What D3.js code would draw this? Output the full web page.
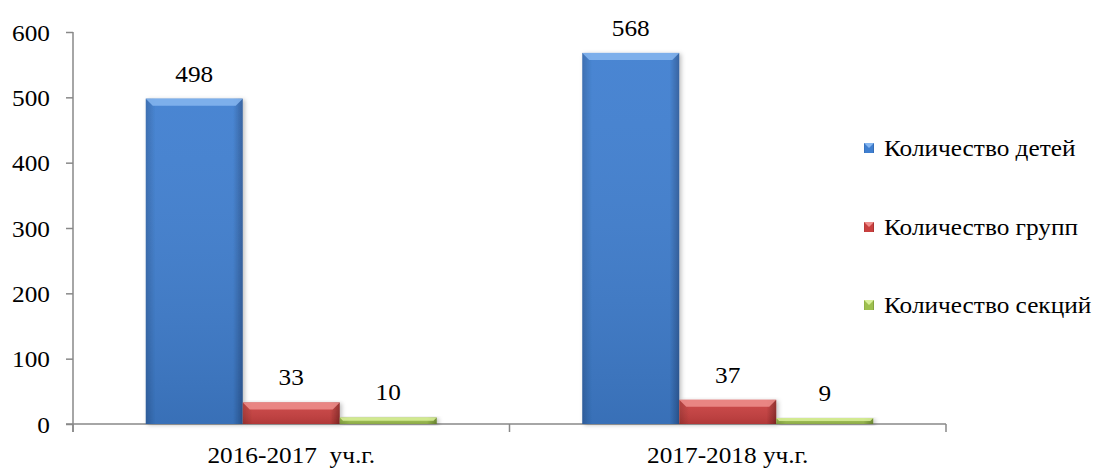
<!DOCTYPE html>
<html lang="ru">
<head>
<meta charset="UTF-8">
<title>Количество детей, групп и секций</title>
<script src="https://d3js.org/d3.v7.min.js"></script>
<style>
  body { margin: 0; background: #fff; }
  svg text { fill: #000; white-space: pre; }
</style>
</head>
<body>
<svg id="chart" width="1103" height="468"></svg>
<script>
// data
const years = ["2016-2017  уч.г.", "2017-2018 уч.г."];
const seriesNames = ["Количество детей", "Количество групп", "Количество секций"];
const children = [498, 568];
const groups = [33, 37];
const sections = [10, 9];
const yTicks = [0, 100, 200, 300, 400, 500, 600];

const seriesValues = [children, groups, sections];
const colors = [
  { base: "#3f7fd0", light: "#86b6f0", dark: "#2d5c9c", edge: "#3468ad" },
  { base: "#c9403f", light: "#ef8f8d", dark: "#8c2726", edge: "#a83634" },
  { base: "#9ec04f", light: "#d9f09a", dark: "#6c8a2e", edge: "#87a53f" }
];

const FONT = "Liberation Serif";
const svg = d3.select("#chart");
const plotLeft = 73, plotRight = 946, plotTop = 32, plotBottom = 424;
const stretch = 1.1; // text in the picture is a bit wide

const x = d3.scaleBand().domain(years).range([plotLeft, plotRight]);
const inner = d3.scaleBand().domain(d3.range(seriesNames.length))
  .range([x.bandwidth() / 6, x.bandwidth() * 5 / 6]);
const y = d3.scaleLinear().domain([0, 600]).range([plotBottom, plotTop]);

function wideText(sel, px, py) {
  return sel.attr("font-family", FONT).attr("font-size", 23)
    .attr("transform", `translate(${px},${py}) scale(${stretch},1)`);
}

// gradients
const defs = svg.append("defs");
colors.forEach((c, i) => {
  const g = defs.append("linearGradient").attr("id", "grad" + i)
    .attr("x1", 0).attr("x2", 1).attr("y1", 0).attr("y2", 0);
  g.append("stop").attr("offset", "0%").attr("stop-color", c.edge);
  g.append("stop").attr("offset", "10%").attr("stop-color", c.base);
  g.append("stop").attr("offset", "90%").attr("stop-color", c.base);
  g.append("stop").attr("offset", "100%").attr("stop-color", c.dark);
});
const shade = defs.append("linearGradient").attr("id", "shade")
  .attr("x1", 0).attr("x2", 0).attr("y1", 0).attr("y2", 1);
shade.append("stop").attr("offset", "0%").attr("stop-color", "#fff").attr("stop-opacity", 0.05);
shade.append("stop").attr("offset", "100%").attr("stop-color", "#000").attr("stop-opacity", 0.12);
const sh = defs.append("filter").attr("id", "shadow")
  .attr("x", "-10%").attr("y", "-10%").attr("width", "130%").attr("height", "130%");
sh.append("feDropShadow").attr("dx", 2).attr("dy", 1).attr("stdDeviation", 2)
  .attr("flood-color", "#000").attr("flood-opacity", 0.25);

// axes
const yAxis = svg.append("g").attr("transform", `translate(${plotLeft},0)`)
  .call(d3.axisLeft(y).tickValues(yTicks).tickSize(7).tickSizeOuter(0).tickFormat(d3.format("d")));
yAxis.select(".domain").attr("stroke", "#888").attr("stroke-width", 1.5)
  .attr("d", `M0,${plotTop}V${plotBottom + 8}`);
yAxis.selectAll(".tick line").attr("stroke", "#888").attr("stroke-width", 1.5);
yAxis.selectAll(".tick text")
  .attr("x", null).attr("dy", null).attr("text-anchor", "end")
  .attr("font-family", FONT).attr("font-size", 23)
  .attr("transform", `translate(-23,8) scale(${stretch},1)`);

const xAxis = svg.append("g").attr("transform", `translate(0,${plotBottom})`);
xAxis.append("line").attr("x1", plotLeft - 7).attr("x2", plotRight)
  .attr("stroke", "#888").attr("stroke-width", 1.5);
[...years.map(d => x(d)), plotRight].forEach(px => {
  xAxis.append("line").attr("x1", px).attr("x2", px).attr("y1", 0).attr("y2", 8)
    .attr("stroke", "#888").attr("stroke-width", 1.5);
});
years.forEach(d => {
  wideText(xAxis.append("text").attr("text-anchor", "middle").text(d),
    x(d) + x.bandwidth() / 2, 39);
});

// bars
const bars = svg.append("g");
seriesValues.forEach((vals, s) => {
  const c = colors[s];
  years.forEach((yr, i) => {
    const v = vals[i];
    const x0 = x(yr) + inner(s), w = inner.bandwidth();
    const y0 = y(v), h = plotBottom - y0;
    const b = Math.min(7, h / 2);
    const g = bars.append("g");
    g.append("rect").attr("x", x0).attr("y", y0).attr("width", w).attr("height", h)
      .attr("fill", `url(#grad${s})`).attr("filter", "url(#shadow)");
    g.append("rect").attr("x", x0).attr("y", y0).attr("width", w).attr("height", h)
      .attr("fill", "url(#shade)");
    // bevel: light top edge
    g.append("polygon").attr("fill", c.light).attr("opacity", 0.85)
      .attr("points", `${x0},${y0} ${x0 + w},${y0} ${x0 + w - b},${y0 + b} ${x0 + b},${y0 + b}`);
    wideText(svg.append("text").attr("text-anchor", "middle").text(v),
      x0 + w / 2, y0 - 17);
  });
});

// legend
const legendY = [148, 227, 305];
seriesNames.forEach((name, s) => {
  const c = colors[s];
  const ly = legendY[s];
  svg.append("rect").attr("x", 864).attr("y", ly - 5).attr("width", 10).attr("height", 10)
    .attr("fill", `url(#grad${s})`);
  svg.append("polygon").attr("fill", c.light)
    .attr("points", `864,${ly - 5} 874,${ly - 5} 869,${ly}`);
  wideText(svg.append("text").text(name), 884, ly + 8);
});
</script>
</body>
</html>
